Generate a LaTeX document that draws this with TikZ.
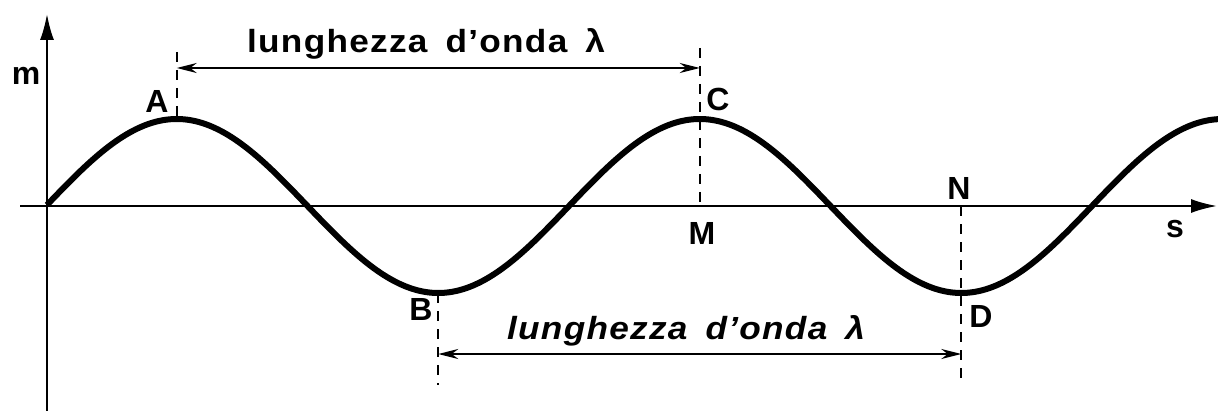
\documentclass[tikz,border=0pt]{standalone}
\usepackage{fontspec}
\setmainfont{Liberation Sans}
\usetikzlibrary{arrows.meta}
\newcommand{\spanfont}{\fontsize{16}{18}\selectfont\bfseries\addfontfeature{FakeStretch=1.1,LetterSpace=4}}
\tikzset{
  wave/.style={line width=3pt, line join=round},
  axis/.style={line width=1pt, -{Latex[length=13pt,width=7pt]}},
  guide/.style={line width=0.8pt, dash pattern=on 5pt off 4pt},
  span/.style={line width=0.9pt, {Stealth[length=10pt,width=5pt]}-{Stealth[length=10pt,width=5pt]}},
  lbl/.style={font=\fontsize{16}{18}\selectfont\bfseries, inner sep=0pt},
  spantext/.style={inner sep=0pt, anchor=base, font=\spanfont},
  spantextit/.style={inner sep=0pt, anchor=base, font=\spanfont\itshape}
}
\newcommand{\wgap}{\hspace{9pt}}

\begin{document}
\begin{tikzpicture}[x=0.5pt, y=-0.5pt]
  \useasboundingbox (0,0) rectangle (1218,411);

  % axes
  \coordinate (yb) at (47,411);
  \coordinate (yt) at (47,14);
  \coordinate (xl) at (20,206);
  \coordinate (xr) at (1217,206);
  \draw[axis] (yb) -- (yt);
  \draw[axis] (xl) -- (xr);

  % the wave
  \draw[wave] plot[domain=47:1218, samples=240, smooth]
    (\x, {206-87*sin(((\x-46)/523)*360)});

  % peaks, troughs and guide ends
  \coordinate (pA) at (176.75,119);
  \coordinate (pC) at (699.75,119);
  \coordinate (pB) at (438.25,293);
  \coordinate (pD) at (961.25,293);
  \coordinate (pM) at (699.75,206);
  \coordinate (pN) at (961.25,206);
  \coordinate (aTop) at (176.75,52);
  \coordinate (cTop) at (699.75,48);
  \coordinate (bBot) at (438.25,385);
  \coordinate (dBot) at (961.25,385);
  \coordinate (topL) at (176.75,68);
  \coordinate (topR) at (699.75,68);
  \coordinate (botL) at (438.25,354);
  \coordinate (botR) at (961.25,354);

  \draw[guide] (aTop) -- (pA);
  \draw[guide] (cTop) -- (pM);
  \draw[guide] (pB) -- (bBot);
  \draw[guide] (pN) -- (dBot);

  \draw[span] (topL) -- (topR);
  \draw[span] (botL) -- (botR);

  \node[spantext] (topText) at (426,53) {lunghezza\wgap d'onda\wgap λ};
  \node[spantextit] (botText) at (686,339) {lunghezza\wgap d'onda\wgap λ};

  % point labels
  \node[lbl] (lm) at (26,76) {m};
  \node[lbl] (lA) at (157,101) {A};
  \node[lbl] (lC) at (718,99) {C};
  \node[lbl] (lM) at (702,233) {M};
  \node[lbl] (lB) at (421,309) {B};
  \node[lbl] (lN) at (959,188) {N};
  \node[lbl] (lD) at (981,316) {D};
  \node[lbl] (ls) at (1175,229) {s};
\end{tikzpicture}
\end{document}
